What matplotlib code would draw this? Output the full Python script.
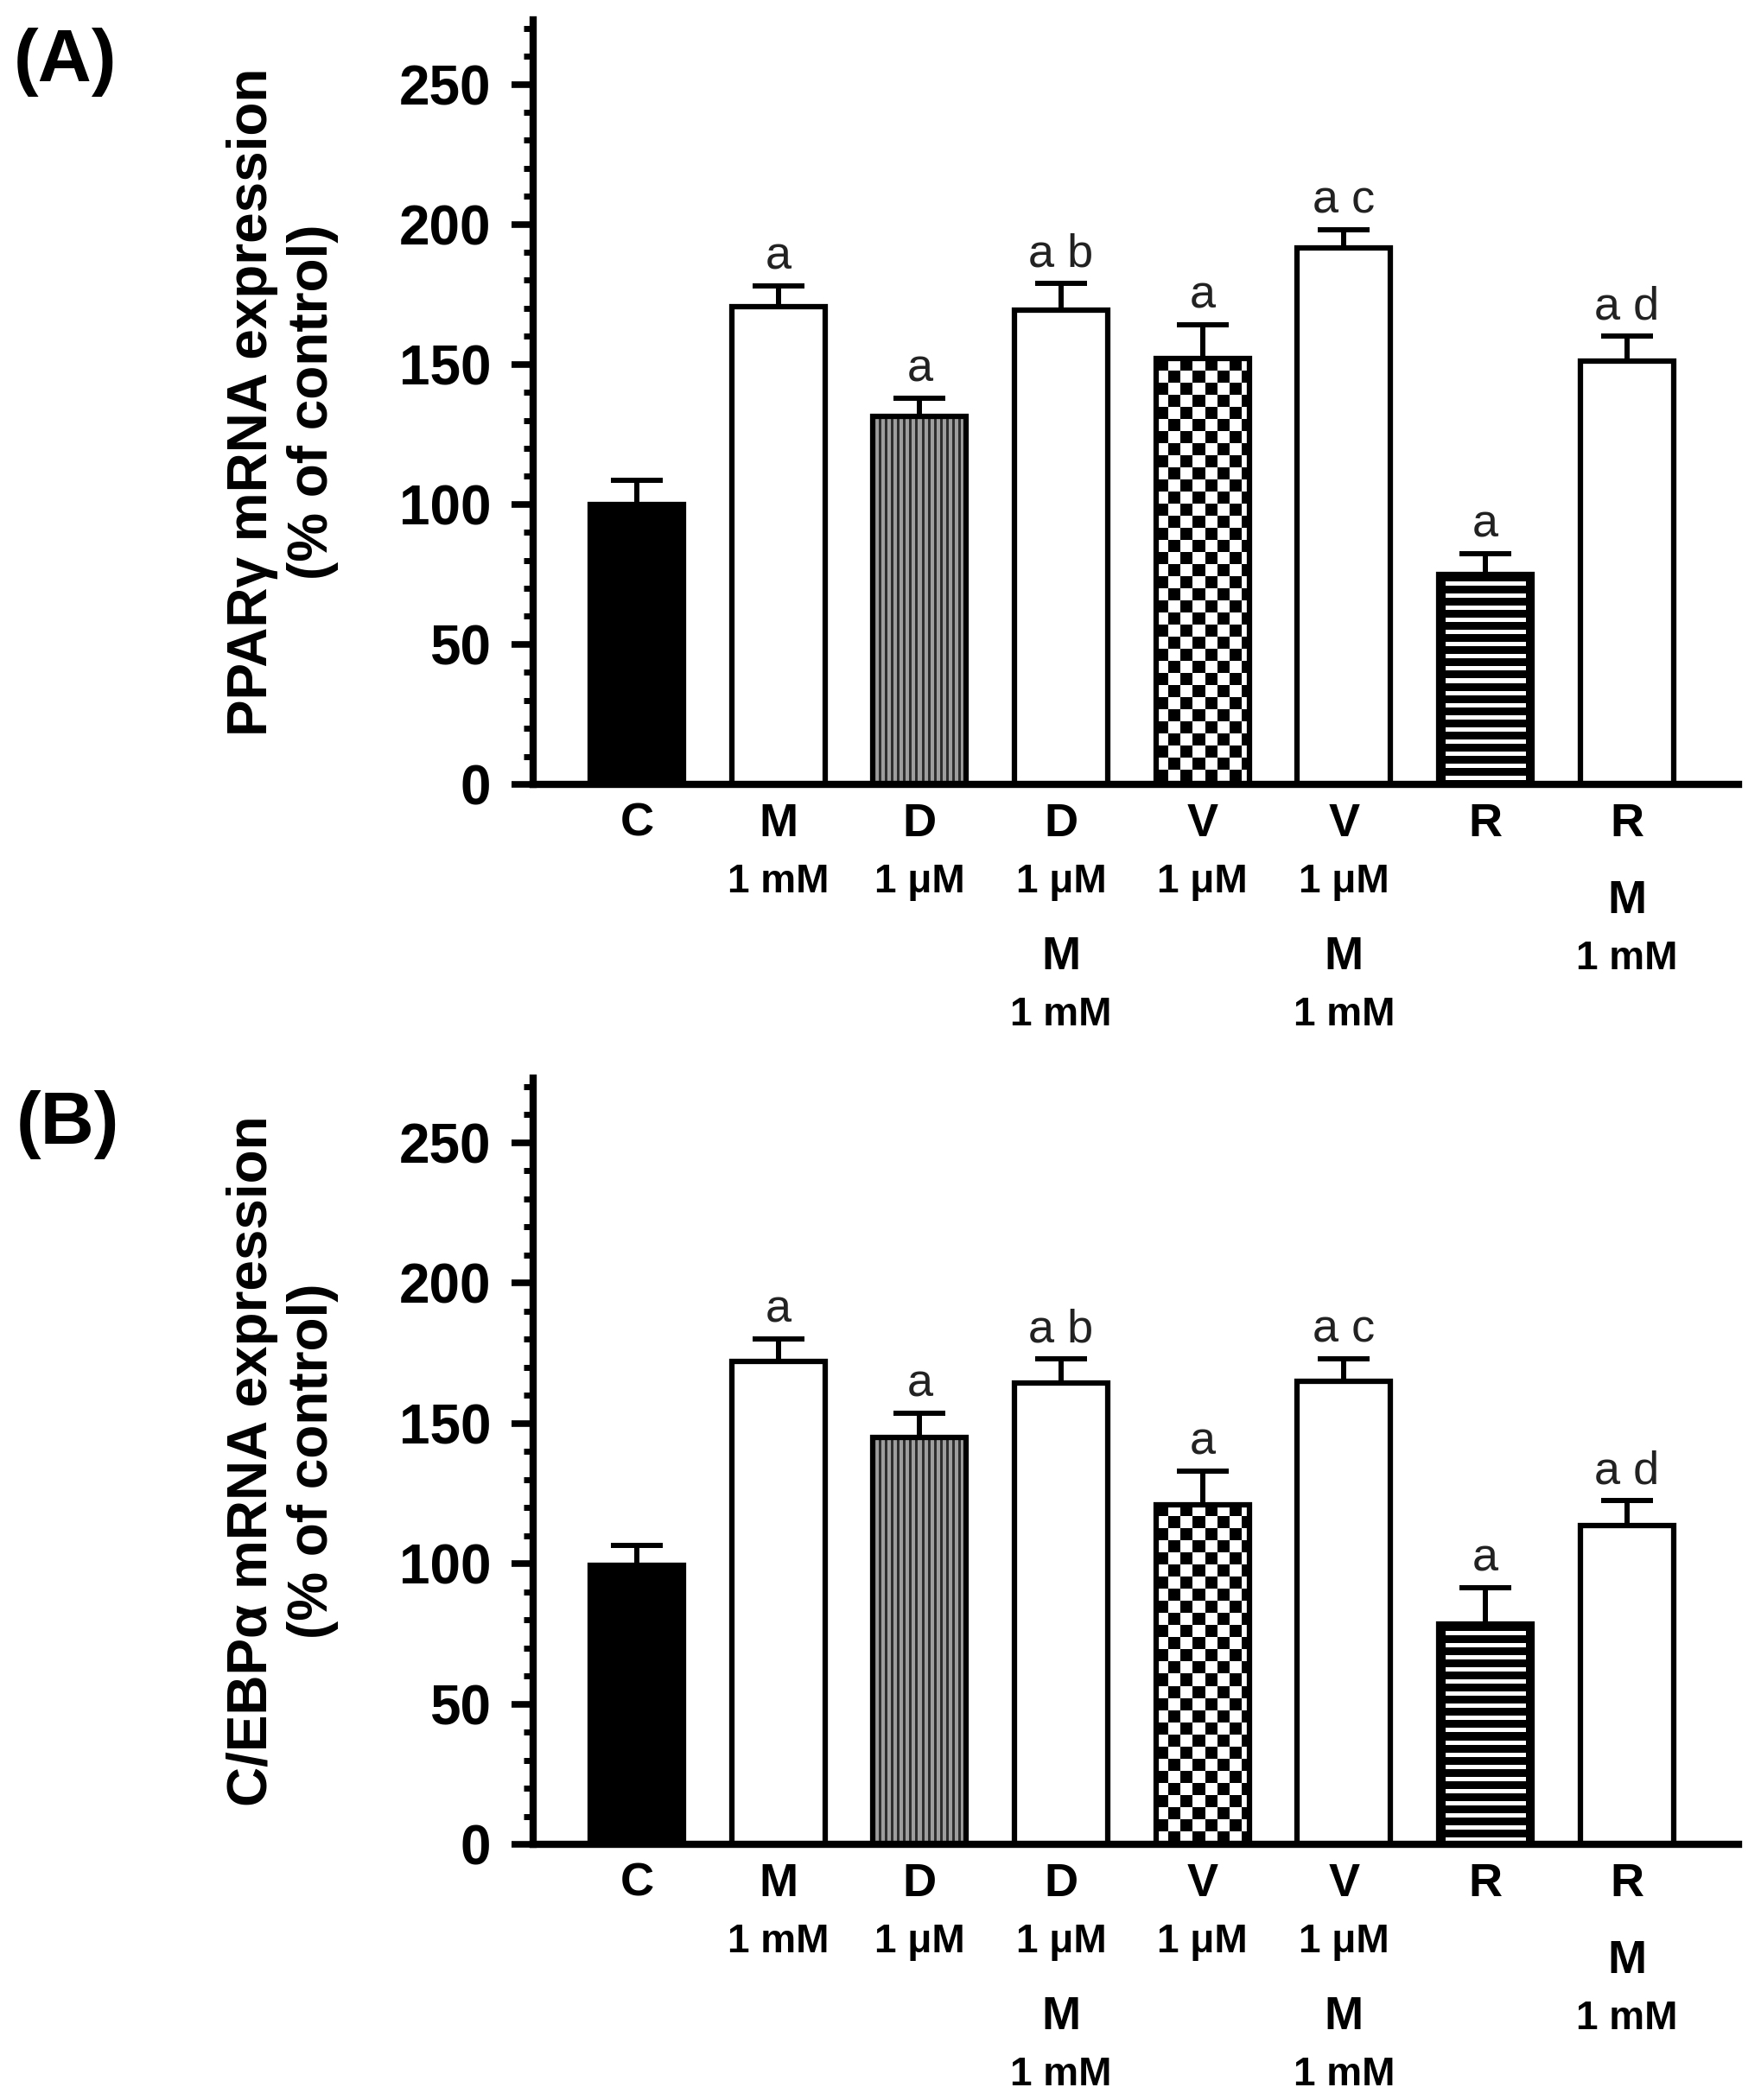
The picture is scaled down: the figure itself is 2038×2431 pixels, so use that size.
import numpy as np
import matplotlib
matplotlib.use('Agg')
import matplotlib.pyplot as plt
from matplotlib.patches import Rectangle
from matplotlib.ticker import MultipleLocator

plt.rcParams['font.family'] = ['Liberation Sans', 'DejaVu Sans']

# groups on the x axis (C, M, D, D+M, V, V+M, R, R+M)
label_lines = [['C'], ['M', '1 mM'], ['D', '1 μM'], ['D', '1 μM', 'M', '1 mM'],
               ['V', '1 μM'], ['V', '1 μM', 'M', '1 mM'], ['R'], ['R', 'M', '1 mM']]
fills = ['black', 'white', 'vlines', 'white', 'checker', 'white', 'hlines', 'white']
letters = ['', 'a', 'a', 'a b', 'a', 'a c', 'a', 'a d']

# panel A: PPARgamma
pparg = [100, 170.5, 131.5, 169.5, 152, 191.5, 75, 151]
pparg_err = [8.5, 7.5, 6.5, 9.5, 12, 6.5, 7.5, 9]
# panel B: C/EBPalpha
cebpa = [99.5, 172, 145, 164.5, 121, 165, 78.5, 113.5]
cebpa_err = [7, 8, 8.5, 8.5, 12, 8, 13, 9]

W, H = 2038, 2431
fig = plt.figure(figsize=(W / 100, H / 100), dpi=100)

BAR_W = 0.66
LW = 4.5


def texture(kind, w, h):
    jj, ii = np.meshgrid(np.arange(w), np.arange(h))
    if kind == 'vlines':
        return np.where(jj % 7 < 3, 0.18, 0.62)
    if kind == 'checker':
        return ((ii // 14 + jj // 14) % 2).astype(float)
    # horizontal white lines on black
    img = np.where(ii % 14 >= 9, 1.0, 0.0)
    img[:, :8] = 0
    img[:, -8:] = 0
    return img


def panel(bottom, top, vals, errs, ylabel):
    ax = fig.add_axes([617 / W, bottom, (2012 - 617) / W, top - bottom])
    ax.set_xlim(-0.733, 7.79)
    ax.set_ylim(0, 273)
    x = np.arange(len(vals))

    for i, (v, f) in enumerate(zip(vals, fills)):
        x0 = x[i] - BAR_W / 2
        if f in ('black', 'white'):
            ax.bar(x[i], v, BAR_W, color=f, edgecolor='black', linewidth=LW, zorder=2)
        else:
            rect = Rectangle((x0, 0), BAR_W, v, facecolor='none', edgecolor='black',
                             linewidth=LW, zorder=3)
            ax.add_patch(rect)
            p0 = ax.transData.transform((x0, 0))
            p1 = ax.transData.transform((x0 + BAR_W, v))
            img = texture(f, int(round(p1[0] - p0[0])), int(round(p1[1] - p0[1])))
            im = ax.imshow(img, cmap='gray', vmin=0, vmax=1, extent=(x0, x0 + BAR_W, 0, v),
                           origin='upper', aspect='auto', interpolation='nearest', zorder=2)
            im.set_clip_path(rect)

    tops = np.array(vals) + np.array(errs)
    ax.vlines(x, vals, tops, color='black', linewidth=4.3, zorder=3)
    ax.hlines(tops, x - 0.183, x + 0.183, color='black', linewidth=4.3, zorder=3)
    for i, t in enumerate(letters):
        if t:
            ax.annotate(t, (x[i], tops[i]), xytext=(0, 14), textcoords='offset points',
                        ha='center', va='baseline', fontsize=39, color='#222222')

    ax.set_xlim(-0.733, 7.79)
    ax.set_ylim(0, 273)
    for s in ('top', 'right'):
        ax.spines[s].set_visible(False)
    for s in ('left', 'bottom'):
        ax.spines[s].set_linewidth(6)
        ax.spines[s].set_zorder(4)
    ax.set_xticks([])
    ax.yaxis.set_major_locator(MultipleLocator(50))
    ax.yaxis.set_minor_locator(MultipleLocator(10))
    ax.tick_params(axis='y', which='major', length=18, width=5.5, pad=17, labelsize=46)
    ax.tick_params(axis='y', which='minor', length=8, width=5)
    for lab in ax.get_yticklabels():
        lab.set_fontweight('bold')

    # multi-line group labels under the axis
    for i, lines in enumerate(label_lines):
        off = 43
        for k, s in enumerate(lines):
            big = not s.startswith('1')
            if k > 0:
                off += 64 if big else 47
            ax.annotate(s, (x[i], 0), xytext=(0, -off),
                        textcoords='offset points', ha='center', va='baseline',
                        fontsize=39 if big else 33, fontweight='bold')

    cy = (bottom + top) / 2
    fig.text(0.1604, cy, ylabel, rotation=90, ha='center', va='center',
             multialignment='center', fontsize=46, fontweight='bold', linespacing=1.2)
    return ax


axA = panel(1 - 908 / H, 1 - 23 / H, pparg, pparg_err,
            'PPARγ mRNA expression\n(% of control)')
axB = panel(1 - 2135 / H, 1 - 1248 / H, cebpa, cebpa_err,
            'C/EBPα mRNA expression\n(% of control)')

fig.text(76 / W, 1 - 72 / H, '(A)', ha='center', va='center', fontsize=62, fontweight='bold')
fig.text(78 / W, 1 - 1302 / H, '(B)', ha='center', va='center', fontsize=62, fontweight='bold')

fig.savefig('out.png', dpi=100)
